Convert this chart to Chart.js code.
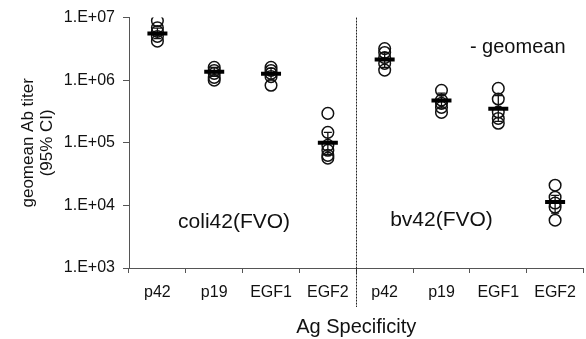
<!DOCTYPE html>
<html>
<head>
<meta charset="utf-8">
<script src="https://cdn.jsdelivr.net/npm/chart.js@4.4.0/dist/chart.umd.min.js"></script>
<style>
  html, body { margin: 0; padding: 0; background: #fff; }
  #wrap { width: 586px; height: 339px; }
</style>
</head>
<body>
<div id="wrap"><canvas id="titerChart"></canvas></div>
<script>
// categories (two vaccine groups, 4 antigens each)
const categories = ['p42', 'p19', 'EGF1', 'EGF2', 'p42', 'p19', 'EGF1', 'EGF2'];
const yTicks = [1e3, 1e4, 1e5, 1e6, 1e7];

// individual titers per animal
const coliP42  = [8.9e6, 6.9e6, 6.0e6, 5.0e6, 4.2e6];
const coliP19  = [1.6e6, 1.43e6, 1.28e6, 1.11e6, 1.0e6];
const coliEGF1 = [1.6e6, 1.43e6, 1.28e6, 1.14e6, 8.3e5];
const coliEGF2 = [2.95e5, 1.47e5, 9.1e4, 7.6e4, 6.3e4, 5.7e4];
const bvP42    = [3.2e6, 2.77e6, 2.3e6, 1.85e6, 1.45e6];
const bvP19    = [6.9e5, 4.8e5, 4.26e5, 3.68e5, 3.06e5];
const bvEGF1   = [7.4e5, 5.0e5, 3.1e5, 2.45e5, 2.05e5];
const bvEGF2   = [2.1e4, 1.35e4, 1.09e4, 9.4e3, 5.8e3];

// geomean and 95% CI
const geomeans = [5.56e6, 1.36e6, 1.27e6, 1.0e5, 2.15e6, 4.76e5, 3.5e5, 1.13e4];
const ciLow    = [4.6e6, 1.15e6, 1.0e6, 6.5e4, 1.6e6, 3.6e5, 2.2e5, 7.5e3];
const ciHigh   = [6.8e6, 1.6e6, 1.55e6, 1.47e5, 2.75e6, 6.2e5, 5.7e5, 1.45e4];

const groupLabels = ['coli42(FVO)', 'bv42(FVO)'];

const FONT = 'Arial, "Liberation Sans", sans-serif';
const INK = '#111';
const AXIS = '#555';
Chart.defaults.font.family = FONT;

const groups = [coliP42, coliP19, coliEGF1, coliEGF2, bvP42, bvP19, bvEGF1, bvEGF2];
const maxN = Math.max(...groups.map(g => g.length));

const circleSets = [];
for (let r = 0; r < maxN; r++) {
  circleSets.push({
    label: 'animal ' + (r + 1),
    data: groups.map(g => g[r] ?? null),
    showLine: false,
    pointStyle: 'circle',
    pointRadius: 5.8,
    pointBorderWidth: 1.5,
    pointBorderColor: INK,
    pointBackgroundColor: 'rgba(0,0,0,0)'
  });
}

const annotatePlugin = {
  id: 'annotate',
  beforeDatasetsDraw(chart) {
    const { ctx, scales: { x, y } } = chart;
    ctx.save();
    ctx.strokeStyle = INK;
    ctx.lineWidth = 1.3;
    ciLow.forEach((lo, i) => {
      const px = x.getPixelForValue(i);
      const yLo = y.getPixelForValue(lo);
      const yHi = y.getPixelForValue(ciHigh[i]);
      ctx.beginPath();
      ctx.moveTo(px, yLo); ctx.lineTo(px, yHi);
      ctx.moveTo(px - 4, yLo); ctx.lineTo(px + 4, yLo);
      ctx.moveTo(px - 4, yHi); ctx.lineTo(px + 4, yHi);
      ctx.stroke();
    });
    ctx.restore();
  },
  afterDraw(chart) {
    const { ctx, chartArea, scales: { x, y } } = chart;
    ctx.save();
    // divider between the two groups
    const divX = Math.round((x.getPixelForValue(3) + x.getPixelForValue(4)) / 2) + 0.5;
    ctx.strokeStyle = '#222';
    ctx.lineWidth = 1;
    ctx.setLineDash([2, 1]);
    ctx.beginPath();
    ctx.moveTo(divX, chartArea.top);
    ctx.lineTo(divX, chartArea.bottom + 39);
    ctx.stroke();
    ctx.setLineDash([]);

    ctx.fillStyle = INK;
    ctx.font = '21px ' + FONT;
    ctx.textAlign = 'center';
    ctx.textBaseline = 'middle';
    ctx.fillText(groupLabels[0], x.getPixelForValue(1.35), y.getPixelForValue(5.4e3));
    ctx.fillText(groupLabels[1], x.getPixelForValue(5.0), y.getPixelForValue(5.8e3));

    ctx.font = '20px ' + FONT;
    ctx.textAlign = 'right';
    ctx.fillText('- geomean', chartArea.right - 18, chartArea.top + 30);
    ctx.restore();
  }
};

new Chart(document.getElementById('titerChart'), {
  type: 'line',
  plugins: [annotatePlugin],
  data: {
    labels: categories,
    datasets: [{
      label: 'geomean',
      data: geomeans,
      showLine: false,
      pointStyle: 'line',
      pointRadius: 10,
      pointBorderWidth: 4,
      pointBorderColor: '#000'
    }, ...circleSets]
  },
  options: {
    responsive: true,
    maintainAspectRatio: false,
    animation: false,
    devicePixelRatio: 1,
    layout: { autoPadding: false, padding: { top: 17, right: 0, bottom: 0, left: 19 } },
    plugins: { legend: { display: false }, tooltip: { enabled: false } },
    scales: {
      x: {
        type: 'category',
        offset: true,
        grid: { offset: true, drawOnChartArea: false, tickLength: 5, color: AXIS },
        border: { color: AXIS },
        ticks: { color: INK, font: { size: 16 }, padding: 10, maxRotation: 0, autoSkip: false },
        afterFit: s => { s.height = 71; },
        title: { display: true, text: 'Ag Specificity', color: INK, font: { size: 20 }, padding: { top: 11, bottom: 0 } }
      },
      y: {
        type: 'logarithmic',
        min: 1e3,
        max: 1e7,
        afterBuildTicks: s => { s.ticks = yTicks.map(v => ({ value: v })); },
        afterFit: s => { s.width = 110; },
        grid: { drawOnChartArea: false, tickLength: 6, color: AXIS },
        border: { color: AXIS },
        ticks: {
          color: INK,
          font: { size: 16 },
          padding: 8,
          callback: v => '1.E+' + String(Math.round(Math.log10(v))).padStart(2, '0')
        },
        title: { display: true, text: ['geomean Ab titer', '(95% CI)'], color: INK, font: { size: 17, lineHeight: 1.1 }, padding: { top: 0, bottom: 0 } }
      }
    }
  }
});
</script>
</body>
</html>
